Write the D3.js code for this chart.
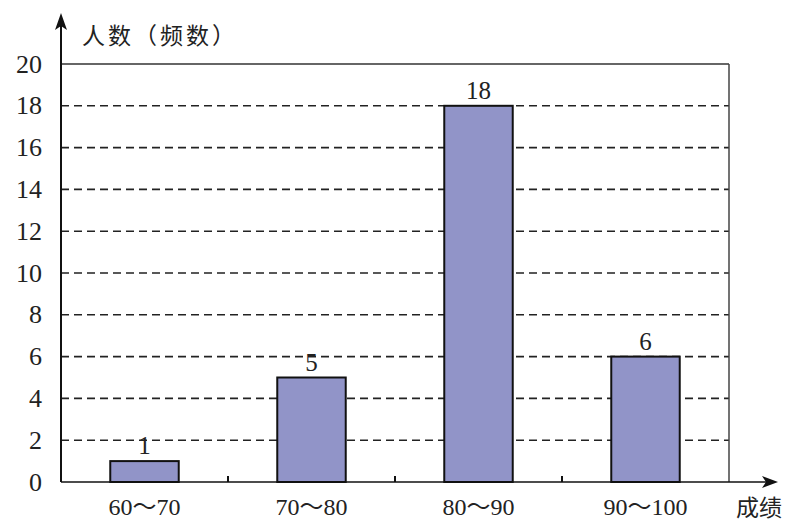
<!DOCTYPE html>
<html><head><meta charset="utf-8">
<script src="https://cdn.jsdelivr.net/npm/d3@7"></script>
<style>
html,body{margin:0;padding:0;background:#fff;}
text{font-family:"Liberation Serif","Noto Sans CJK SC",serif;fill:#222;}
.cjk{font-family:"Noto Sans CJK SC",sans-serif;}
</style></head>
<body>
<svg id="chart" width="812" height="528"></svg>
<script>
const categories = ["60～70","70～80","80～90","90～100"];
const values = [1,5,18,6];
const yTicks = [0,2,4,6,8,10,12,14,16,18,20];
const yTitle = "人数（频数）";
const xTitle = "成绩";

const svg = d3.select("#chart");
const L = 61, R = 729, T = 64, B = 482;

const x = d3.scaleBand().domain(categories).range([L, R]).paddingInner(0.59).paddingOuter(0.295);
const y = d3.scaleLinear().domain([0, 20]).range([B, T]);

// dashed grid
svg.append("g").selectAll("line").data(yTicks.filter(d => d > 0 && d < 20)).join("line")
  .attr("x1", L).attr("x2", R).attr("y1", d => y(d)).attr("y2", d => y(d))
  .attr("stroke", "#222").attr("stroke-width", 1.6).attr("stroke-dasharray", "8,5");

// box top and right
svg.append("line").attr("x1", L).attr("x2", R).attr("y1", y(20)).attr("y2", y(20))
  .attr("stroke", "#333").attr("stroke-width", 1.5);
svg.append("line").attr("x1", R).attr("x2", R).attr("y1", y(20)).attr("y2", B)
  .attr("stroke", "#444").attr("stroke-width", 1.5);

// bars
svg.append("g").selectAll("rect").data(categories).join("rect")
  .attr("x", d => x(d)).attr("width", x.bandwidth())
  .attr("y", (d, i) => y(values[i])).attr("height", (d, i) => B - y(values[i]))
  .attr("fill", "#9194c8").attr("stroke", "#111").attr("stroke-width", 2);

// value labels
svg.append("g").selectAll("text").data(categories).join("text")
  .attr("x", d => x(d) + x.bandwidth() / 2).attr("y", (d, i) => y(values[i]) - 7)
  .attr("text-anchor", "middle").attr("font-size", 25)
  .text((d, i) => values[i]);

// y tick labels
svg.append("g").selectAll("text").data(yTicks).join("text")
  .attr("x", 42).attr("y", d => y(d) + 8.5).attr("text-anchor", "end")
  .attr("font-size", 26).text(d => d);

// x labels
svg.append("g").selectAll("text").data(categories).join("text")
  .attr("x", d => x(d) + x.bandwidth() / 2).attr("y", 515)
  .attr("text-anchor", "middle").attr("font-size", 24).text(d => d);

// x boundary ticks
const step = x.step();
svg.append("g").selectAll("line").data([1,2,3]).join("line")
  .attr("x1", k => L + step * k).attr("x2", k => L + step * k)
  .attr("y1", B).attr("y2", B - 6).attr("stroke", "#111").attr("stroke-width", 2);

// axes with arrows
svg.append("line").attr("x1", L).attr("x2", 766).attr("y1", B).attr("y2", B)
  .attr("stroke", "#111").attr("stroke-width", 1.6);
svg.append("path").attr("d", `M778,${B} L762,${B-6} L766,${B} L762,${B+6} Z`).attr("fill", "#111");
svg.append("line").attr("x1", L).attr("x2", L).attr("y1", B).attr("y2", 26)
  .attr("stroke", "#111").attr("stroke-width", 2);
svg.append("path").attr("d", `M${L},13 L${L-6},30 L${L},26 L${L+6},30 Z`).attr("fill", "#111");

// axis titles
svg.append("text").attr("class", "cjk").attr("x", 82).attr("y", 44)
  .attr("font-size", 23).attr("letter-spacing", 3).text(yTitle);
svg.append("text").attr("class", "cjk").attr("x", 736).attr("y", 516)
  .attr("font-size", 23).text(xTitle);
</script>
</body></html>
